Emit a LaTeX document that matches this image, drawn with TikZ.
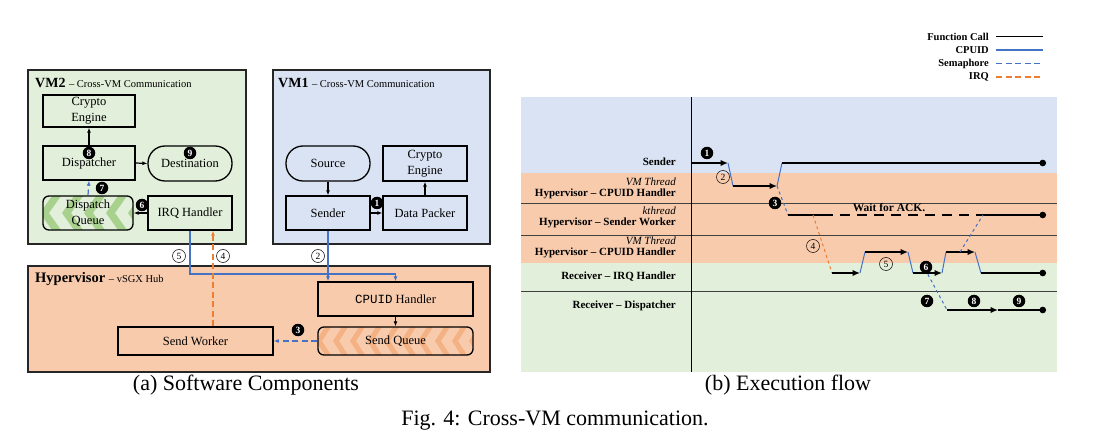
\documentclass[tikz,border=0pt]{standalone}
\usepackage{fontspec}
\setmainfont{Liberation Serif}
\setmonofont{Liberation Mono}
\usetikzlibrary{arrows.meta,calc}
\definecolor{vmgreen}{HTML}{E2EFDA}
\definecolor{vmblue}{HTML}{DAE3F3}
\definecolor{hvorange}{HTML}{F8CBAD}
\definecolor{chevgreen}{HTML}{A9D18E}
\definecolor{chevorange}{HTML}{F4B183}
\definecolor{cpuidblue}{HTML}{4472C4}
\definecolor{irqorange}{HTML}{ED7D31}
\tikzstyle{vmframe}=[draw=black!85, line width=1.6pt, inner sep=0pt]
\tikzstyle{comp}=[draw, line width=1.3pt, inner sep=0pt, align=center, font=\fontsize{12.5}{16}\selectfont]
\tikzstyle{term}=[comp, rounded corners=17pt]
\tikzstyle{call}=[-{Latex[length=5pt,width=4pt]}, line width=1.2pt]
\tikzstyle{cpuid}=[cpuidblue, line width=1.2pt]
\tikzstyle{sema}=[cpuidblue, line width=1.2pt, dash pattern=on 6pt off 3.5pt]
\tikzstyle{irq}=[irqorange, line width=1.2pt, dash pattern=on 6pt off 3.5pt]
\tikzstyle{lgcall}=[black, line width=1.3pt]
\tikzstyle{numdot}=[circle, fill=black, text=white, inner sep=0pt, minimum size=12.5pt, font=\fontsize{9.5}{10}\selectfont\bfseries]
\tikzstyle{numring}=[circle, draw, line width=0.5pt, inner sep=0pt, minimum size=13pt, font=\fontsize{9.5}{10}\selectfont]
\tikzstyle{trace}=[line width=2.2pt]
\tikzstyle{tcall}=[trace, -{Latex[length=7.5pt,width=6.5pt]}]
\tikzstyle{tend}=[trace, -{Circle[length=6.5pt]}]
\tikzstyle{tblue}=[cpuidblue, line width=1pt]
\tikzstyle{tsema}=[cpuidblue, line width=1pt, dash pattern=on 3pt off 3pt]
\tikzstyle{tirq}=[irqorange, line width=1pt, dash pattern=on 3pt off 3pt]
\tikzstyle{lane}=[font=\fontsize{11}{11}\selectfont\bfseries, anchor=east, align=right, inner sep=0pt]
\tikzstyle{caption}=[font=\fontsize{22}{24}\selectfont]

\begin{document}
\begin{tikzpicture}[x=1pt,y=-1pt]
\useasboundingbox (0,0) rectangle (1110,443);

\node[vmframe, fill=vmgreen, minimum width=218pt, minimum height=174pt] (vmtwo) at (137,157) {};
\node[vmframe, fill=vmblue, minimum width=217pt, minimum height=174pt] (vmone) at (381.5,157) {};
\node[vmframe, fill=hvorange, minimum width=462pt, minimum height=106pt] (hyp) at (259,319) {};
\node[anchor=west, inner sep=0pt] (vmtwotitle) at (35,83) {\fontsize{14}{16}\selectfont\bfseries VM2 \fontsize{10.5}{12}\selectfont\mdseries -- Cross-VM Communication};
\node[anchor=west, inner sep=0pt] (vmonetitle) at (278,83) {\fontsize{14}{16}\selectfont\bfseries VM1 \fontsize{10.5}{12}\selectfont\mdseries -- Cross-VM Communication};
\node[anchor=west, inner sep=0pt] (hyptitle) at (35,279) {\fontsize{14.5}{16}\selectfont\bfseries Hypervisor \fontsize{10.5}{12}\selectfont\mdseries -- vSGX Hub};

\begin{scope}
\clip[rounded corners=6pt] (43,196) rectangle (133,230);
\foreach \a in {40,62,84,106,128}
  \fill[chevgreen] (\a+12,196) -- (\a,213) -- (\a+12,230) -- (\a+21,230) -- (\a+9,213) -- (\a+21,196) -- cycle;
\end{scope}
\begin{scope}
\clip[rounded corners=6pt] (318,327) rectangle (473,355);
\foreach \a in {316,333,...,470}
  \fill[chevorange] (\a+9,327) -- (\a,341) -- (\a+9,355) -- (\a+15,355) -- (\a+6,341) -- (\a+15,327) -- cycle;
\end{scope}

\node[comp, minimum width=92pt, minimum height=32pt] (vmtwocrypto) at (89,111) {Crypto\\Engine};
\node[comp, minimum width=92pt, minimum height=34pt] (dispatcher) at (89,163) {Dispatcher};
\node[term, minimum width=84pt, minimum height=35pt] (destination) at (190,163.5) {Destination};
\node[comp, rounded corners=6pt, minimum width=90pt, minimum height=34pt] (dqueue) at (88,213) {Dispatch\\Queue};
\node[comp, minimum width=84pt, minimum height=34pt] (irqhandler) at (190,213) {IRQ Handler};
\node[term, minimum width=84pt, minimum height=35pt] (source) at (328,163.5) {Source};
\node[comp, minimum width=84pt, minimum height=35pt] (vmonecrypto) at (425,163.5) {Crypto\\Engine};
\node[comp, minimum width=84pt, minimum height=34pt] (sender) at (328,213) {Sender};
\node[comp, minimum width=84pt, minimum height=34pt] (packer) at (425,213) {Data Packer};
\node[comp, minimum width=155pt, minimum height=34pt] (cpuidh) at (395.5,299) {\texttt{CPUID} Handler};
\node[comp, rounded corners=6pt, minimum width=155pt, minimum height=28pt] (squeue) at (395.5,341) {Send Queue};
\node[comp, minimum width=155pt, minimum height=28pt] (sworker) at (195.5,341) {Send Worker};

\draw[call] (dispatcher.north) -- (vmtwocrypto.south);
\draw[call] (dispatcher.east) -- (destination.west);
\draw[call] (irqhandler.west) -- (dqueue.east);
\draw[sema, -{Latex[length=5pt,width=4pt]}] (dqueue.north) -- (dispatcher.south);
\draw[call] (source.south) -- (sender.north);
\draw[call] (sender.east) -- (packer.west);
\draw[call] (packer.north) -- (vmonecrypto.south);
\draw[cpuid, -{Latex[length=5pt,width=4pt]}] (sender.south) -- (sender.south |- cpuidh.north);
\coordinate (hubrail) at (0,274);
\draw[cpuid, -{Latex[length=5pt,width=4pt]}] (irqhandler.south) |- (hubrail -| cpuidh.north) -- (cpuidh.north);
\draw[irq, -{Latex[length=5pt,width=4pt]}] ([xshift=17.5pt]sworker.north) -- ([xshift=17.5pt]sworker.north |- irqhandler.south);
\draw[call] (cpuidh.south) -- (squeue.north);
\draw[sema, -{Latex[length=5pt,width=4pt]}] (squeue.west) -- (sworker.east);

\foreach \n/\x/\y in {8/89/153, 9/190/153, 7/102/188, 6/142/205, 1/377/203, 3/298/330}
  \node[numdot] (ma\n) at (\x,\y) {\n};
\foreach \n/\x/\y in {5/179/256, 4/223/256, 2/318/256}
  \node[numring, fill=white] (ra\n) at (\x,\y) {\n};

\fill[vmblue] (521,97) rectangle (1057,173);
\fill[hvorange] (521,173) rectangle (1057,263);
\fill[vmgreen] (521,263) rectangle (1057,372);
\foreach \y in {203,235,291}
  \draw[black!75, line width=0.8pt] (521,\y) -- (1057,\y);
\draw[line width=1pt] (691,97) -- (691,372);

\node[lane] (lsender) at (676,162) {Sender};
\node[lane] (lhcpu) at (676,188) {{\mdseries\itshape VM Thread}\\Hypervisor -- CPUID Handler};
\node[lane] (lhsw) at (676,217) {{\mdseries\itshape kthread}\\Hypervisor -- Sender Worker};
\node[lane] (lhcpub) at (676,247.5) {{\mdseries\itshape VM Thread}\\Hypervisor -- CPUID Handler};
\node[lane] (lirq) at (676,277) {Receiver -- IRQ Handler};
\node[lane] (ldsp) at (676,306) {Receiver -- Dispatcher};

\coordinate (s0) at (691,163);
\coordinate (s1) at (728,163);
\coordinate (s2) at (782,163);
\coordinate (s3) at (1046,163);
\coordinate (h0) at (733,186);
\coordinate (h1) at (777,186);
\coordinate (w0) at (788,215);
\coordinate (w1) at (823,215);
\coordinate (w2) at (983,215);
\coordinate (w3) at (1046,215);
\coordinate (w4) at (813,215);
\coordinate (r0) at (832,273);
\coordinate (r1) at (860,273);
\coordinate (r2) at (913,273);
\coordinate (r3) at (942,273);
\coordinate (r4) at (981,273);
\coordinate (r5) at (1046,273);
\coordinate (r6) at (925,269);
\coordinate (c0) at (865,252);
\coordinate (c1) at (908,252);
\coordinate (c2) at (946,252);
\coordinate (c3) at (975,252);
\coordinate (c4) at (960,252);
\coordinate (d0) at (947,310);
\coordinate (d1) at (998,310);
\coordinate (d2) at (1046,310);

\draw[tcall] (s0) -- (s1);
\draw[tblue] (s1) -- (h0);
\draw[tcall] (h0) -- (h1);
\draw[tblue] (h1) -- (s2);
\draw[tend] (s2) -- (s3);
\draw[tsema] (h1) -- (w0);
\draw[trace] (w0) -- (w1);
\draw[trace, dash pattern=on 10pt off 7pt] (w1) -- (w2);
\draw[tend] (w2) -- (w3);
\draw[tirq] (w4) -- (r0);
\draw[tcall] (r0) -- (r1);
\draw[tblue] (r1) -- (c0);
\draw[tcall] (c0) -- (c1);
\draw[tblue] (c1) -- (r2);
\draw[tcall] (r2) -- (r3);
\draw[tblue] (r3) -- (c2);
\draw[tcall] (c2) -- (c3);
\draw[tblue] (c3) -- (r4);
\draw[tend] (r4) -- (r5);
\draw[tsema] (c4) -- (w2);
\draw[tsema] (r6) -- (d0);
\draw[tcall] (d0) -- (d1);
\draw[tend] (d1) -- (d2);

\node[font=\fontsize{11.5}{12}\selectfont\bfseries, inner sep=0pt] (wait) at (889,208) {Wait for ACK.};
\foreach \n/\x/\y in {1/707/153, 3/775/203, 6/926/267, 7/927/301, 8/974/301, 9/1019/301}
  \node[numdot] (mb\n) at (\x,\y) {\n};
\foreach \n/\x/\y in {2/723/177, 4/813/246, 5/886/264}
  \node[numring] (rb\n) at (\x,\y) {\n};

\foreach \lab/\s/\y in {Function Call/lgcall/36.5, CPUID/cpuid/50, Semaphore/sema/63.5, IRQ/irq/77} {
  \node[anchor=east, inner sep=0pt, font=\fontsize{10.5}{11}\selectfont\bfseries] (lg\s) at (989,\y) {\lab};
  \draw[\s] ([xshift=7pt]lg\s.east) -- ([xshift=54pt]lg\s.east);
}

\node[caption] (capa) at (246,385) {(a) Software Components};
\node[caption] (capb) at (788,385) {(b) Execution flow};
\node[caption] (capfig) at (555,421) {Fig. 4: Cross-VM communication.};
\end{tikzpicture}
\end{document}
